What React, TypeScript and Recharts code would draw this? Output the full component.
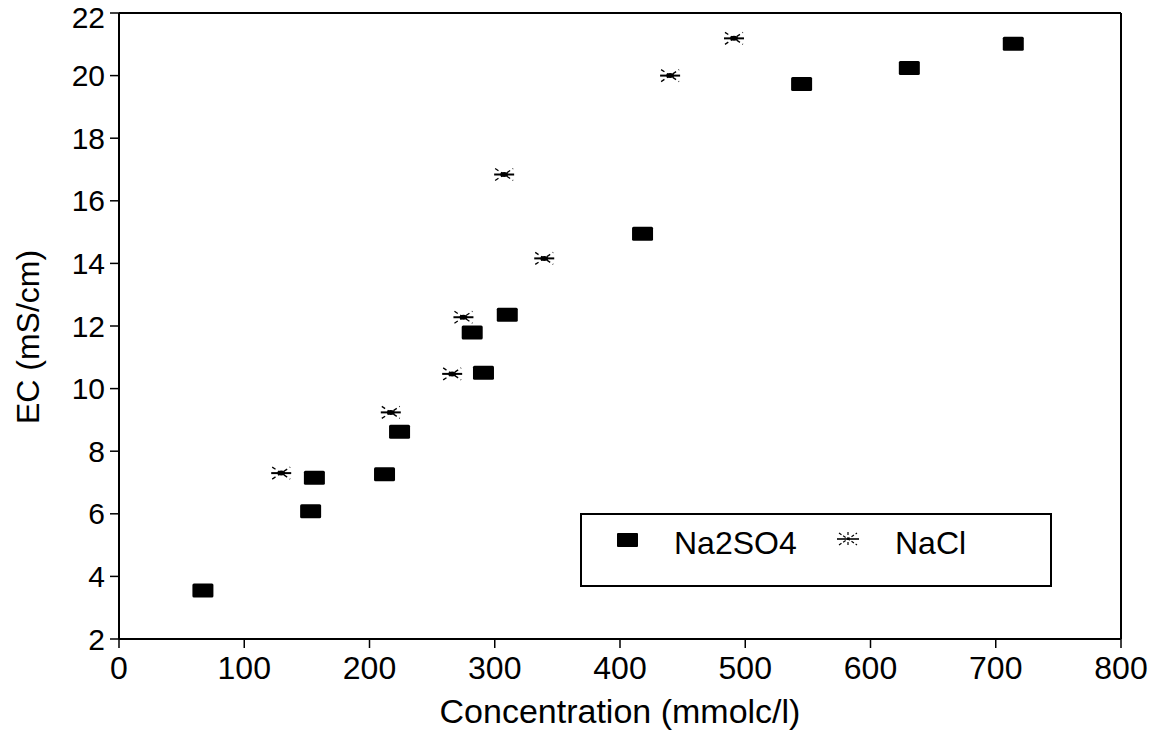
import React from "react";
import { ScatterChart, Scatter, XAxis, YAxis, ReferenceLine, Label } from "recharts";

// values
const na2so4Conc = [67, 153, 156, 212, 224, 282, 291, 310, 418, 545, 631, 714];
const na2so4EC = [3.55, 6.08, 7.15, 7.26, 8.62, 11.79, 10.51, 12.36, 14.95, 19.73, 20.24, 21.02];

const naclConc = [129.5, 217, 266, 275, 307.5, 339.5, 440, 491];
const naclEC = [7.3, 9.24, 10.47, 12.28, 16.84, 14.16, 20.0, 21.19];

const xTicks = [0, 100, 200, 300, 400, 500, 600, 700, 800];
const yTicks = [2, 4, 6, 8, 10, 12, 14, 16, 18, 20, 22];

const FONT = "'Liberation Sans', Arial, Helvetica, sans-serif";

const toPoints = (xs: number[], ys: number[]) => xs.map((x, i) => ({ x, y: ys[i] }));

const squareShape = (props: any) => {
  const { cx, cy } = props;
  return <rect x={cx - 10.5} y={cy - 7} width={21} height={14} rx={1.5} fill="#000" />;
};

const starShape = (props: any) => {
  const { cx, cy } = props;
  return (
    <g>
      <line x1={cx - 10} y1={cy} x2={cx + 10} y2={cy} stroke="#000" strokeWidth={2} />
      <line x1={cx - 9} y1={cy - 6} x2={cx + 9} y2={cy + 6} stroke="#000" strokeWidth={1.3} strokeDasharray="4 3" />
      <line x1={cx - 9} y1={cy + 6} x2={cx + 9} y2={cy - 6} stroke="#000" strokeWidth={1.3} strokeDasharray="4 3" />
      <ellipse cx={cx} cy={cy} rx={4} ry={2.5} fill="#000" />
    </g>
  );
};

const XTitle = (props: any) => {
  const { x, y, width } = props.viewBox;
  return (
    <text x={x + width / 2} y={y + 84} textAnchor="middle" fontSize={34} fontFamily={FONT} fill="#000">
      Concentration (mmolc/l)
    </text>
  );
};

const YTitle = (props: any) => {
  const { y, height } = props.viewBox;
  const cx = 28;
  const cy = y + height / 2 + 11;
  return (
    <text
      x={0}
      y={0}
      transform={`translate(${cx},${cy}) rotate(-90)`}
      textAnchor="middle"
      dominantBaseline="central"
      fontSize={32}
      fontFamily={FONT}
      fill="#000"
    >
      EC (mS/cm)
    </text>
  );
};

function LegendBox() {
  return (
    <div
      style={{
        position: "absolute",
        left: 580,
        top: 513,
        width: 468,
        height: 70,
        border: "2px solid #000",
        background: "#fff",
        fontFamily: FONT,
        fontSize: 32,
        color: "#000",
      }}
    >
      <div style={{ position: "absolute", left: 35, top: 18, width: 21, height: 14, background: "#000", borderRadius: 1 }} />
      <div style={{ position: "absolute", left: 92, top: 8, lineHeight: "40px" }}>Na2SO4</div>
      <svg style={{ position: "absolute", left: 253, top: 15 }} width={26} height={18}>
        <line x1={2} y1={9} x2={24} y2={9} stroke="#000" strokeWidth={1.6} />
        <line x1={4} y1={3} x2={22} y2={15} stroke="#000" strokeWidth={1.2} strokeDasharray="3 2" />
        <line x1={4} y1={15} x2={22} y2={3} stroke="#000" strokeWidth={1.2} strokeDasharray="3 2" />
        <line x1={13} y1={2} x2={13} y2={16} stroke="#000" strokeWidth={1.2} strokeDasharray="3 2" />
      </svg>
      <div style={{ position: "absolute", left: 313, top: 8, lineHeight: "40px" }}>NaCl</div>
    </div>
  );
}

export default function App() {
  const na2so4 = toPoints(na2so4Conc, na2so4EC);
  const nacl = toPoints(naclConc, naclEC);

  return (
    <div style={{ position: "absolute", left: 0, top: 0, width: 1167, height: 731, background: "#fff" }}>
      <ScatterChart width={1167} height={731} margin={{ top: 13, right: 46, bottom: 0, left: 0 }}>
        <XAxis
          type="number"
          dataKey="x"
          domain={[0, 800]}
          ticks={xTicks}
          height={92}
          axisLine={{ stroke: "#000", strokeWidth: 2 }}
          tickLine={{ stroke: "#000", strokeWidth: 1.5 }}
          tickSize={9}
          tickMargin={8}
          tick={{ fontSize: 32, fontFamily: FONT, fill: "#000" }}
          allowDataOverflow
        >
          <Label content={XTitle} />
        </XAxis>
        <YAxis
          type="number"
          dataKey="y"
          domain={[2, 22]}
          ticks={yTicks}
          width={119}
          axisLine={{ stroke: "#000", strokeWidth: 2 }}
          tickLine={{ stroke: "#000", strokeWidth: 1.5 }}
          tickSize={9}
          tickMargin={5}
          tick={{ fontSize: 30, fontFamily: FONT, fill: "#000" }}
          allowDataOverflow
        >
          <Label content={YTitle} />
        </YAxis>
        <ReferenceLine y={22} stroke="#000" strokeWidth={2} />
        <ReferenceLine x={800} stroke="#000" strokeWidth={2} />
        <Scatter name="Na2SO4" data={na2so4} shape={squareShape} isAnimationActive={false} />
        <Scatter name="NaCl" data={nacl} shape={starShape} isAnimationActive={false} />
      </ScatterChart>
      <LegendBox />
    </div>
  );
}
